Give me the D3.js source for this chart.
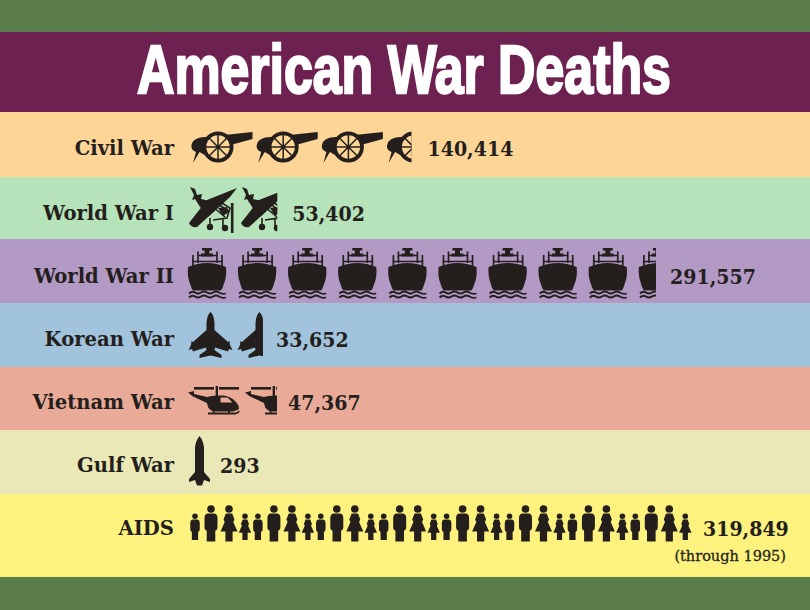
<!DOCTYPE html>
<html><head><meta charset="utf-8">
<script src="https://cdn.jsdelivr.net/npm/d3@7"></script>
<style>html,body{margin:0;padding:0;background:#5a7d4b}svg{display:block}</style>
</head><body><div id="c"></div>
<script>
// ---- data ----
const title = "American War Deaths";
const categories = ["Civil War","World War I","World War II","Korean War","Vietnam War","Gulf War","AIDS"];
const deaths = [140414,53402,291557,33652,47367,293,319849];
const deathsPerIcon = [41430,31450,31210,22600,30340,293,40000];
const iconKinds = ["cannon","biplane","ship","jet","helicopter","rocket","people"];
const footnote = "(through 1995)";
const bandColors = ["#fdd597","#b6e3b9","#b29ac5","#a1c3dc","#eaaa98","#e9e8b6","#fdf27e"];

// ---- layout ----
const W = 810, H = 610, ink = "#241f1d";
const titleBand = {y0:32, y1:112, color:"#6c2150"};
const bandEdges = [112,177,239,303,367,430,494,577];
const iconX = [190.5,189,188,190,188,189,189];
const iconY = [130,186,247,312,386,436,505];
const iconPitch = [65.2,52,50.1,49,57,21,62.9];
const labelBase = [155,220,283,346,409,472,535];
const valueGap = [16,15,14,13,11,10,11];

const cannonSpokes = d3.range(4).map(i => {
  const a = i*Math.PI/4, c = 13*Math.cos(a), s = 13*Math.sin(a);
  return `M${(27.5-c).toFixed(1)} ${(17-s).toFixed(1)}L${(27.5+c).toFixed(1)} ${(17+s).toFixed(1)}`;
}).join("");
const person = {
  man:`<circle cx="0" cy="-32.5" r="3.8"/><path d="M-3.500-28H3.500Q6.500-27.500 6.500-23.500V-15Q6.500-11 4.300-11V0H-4.300V-11Q-6.500-11-6.500-15V-23.500Q-6.500-27.500-3.500-28Z"/>`,
  woman:`<circle cx="0" cy="-32.5" r="3.8"/><path d="M-3.200-28H3.200L5.500-22 4.300-19.500 8.500-10H3.600V0H-3.600V-10H-8.500L-4.300-19.500-5.500-22Z"/>`
};
const place = (shape,x,y,s) => `<g transform="translate(${x},${y}) scale(${s})">${shape}</g>`;
const icons = {
  cannon:`<path d="M4 10Q8 7 15 7L62 2V9L40 15 36 28 14 25 9 22 2.500 33 5.500 22Q0 20 1 15 2 11 4 10Z"/>
    <circle cx="27.500" cy="17" r="13.600" fill="var(--bg)" stroke="${ink}" stroke-width="3.800"/>
    <path d="${cannonSpokes}" stroke="${ink}" stroke-width="1.500" fill="none"/>`,
  biplane:`<path d="M0 37 18 14 48 2 41 11 8 41Q2 42 0 37Z"/>
    <path d="M1 1 6 3 8 9 13 8 12 13 21 15 13 24 6 13 3 14 5 9Z"/>
    <path d="M19 30 33 17 41 22 38 32 24 34M24 21 36 31M28 17 40 26M21 32V40M34 33V41" fill="none" stroke="${ink}" stroke-width="1.600"/>
    <path d="M29 22 38 21 40 26 34 30Z"/>
    <circle cx="21" cy="41" r="3.200"/><circle cx="36" cy="42" r="3.200"/>
    <path d="M43.200 17V47" stroke="${ink}" stroke-width="2.600"/>`,
  ship:`<path d="M0 20Q19 12 38 20 39 30 35.500 38 34.500 42 33 43.500H5Q3.500 42 2.500 38-1 30 0 20Z"/>
    <rect x="14" y="1" width="10" height="2.500"/><rect x="16.500" y="1" width="5" height="8"/><rect x="13" y="6.500" width="12" height="3"/>
    <path d="M5 19V8M34 19V8M10 16V4.500M29 16V4.500M4 14.500H35M10 8.500H29" fill="none" stroke="${ink}" stroke-width="1.700"/>
    <path d="M1 46.500Q4 43.500 7 45.500T13 45.500 19 45.500 25 45.500 31 45.500 38 46.500M1 50.500Q4 47.500 7 49.500T13 49.500 19 49.500 25 49.500 31 49.500 38 50.500" fill="none" stroke="${ink}" stroke-width="1.800"/>`,
  jet:`<path d="M20.500 0Q24 3 24.500 11V18L38 30 39.500 29 40 33 42.500 38 39 37 38 39.500 25 35.500 24.500 38 31.500 43V46L20.500 43.500 9.500 46V43L16.500 38 16 35.500 3 39.500 2 37-1.500 38 1 33 1.500 29 3 30 16.500 18V11Q17 3 20.500 0Z"/>`,
  helicopter:`<rect x="6" y="1" width="20" height="2.600"/><rect x="31" y="1" width="20" height="2.600"/><rect x="27.600" y="0" width="2.400" height="11"/>
    <path d="M0 6.500 6 5V8L19 11Q24 9 35 9.500 42 10 47 15 52 20 50.500 23.500L45 25.500H27Q20 25 19 17L5 10.500Z"/>
    <path d="M32.500 11.500H39.500L44.500 16.500H32.500Z" fill="var(--bg)"/>
    <path d="M20 27.500H47Q50 27.500 51 25M25.500 24V27.500M41 24V27.500" fill="none" stroke="${ink}" stroke-width="1.800"/>`,
  rocket:`<path d="M10.500 0Q14.500 5 15 12V36L21 43V46L15 44 13 49.500H8L6 44 0 46V43L6 36V12Q6.500 5 10.500 0Z"/>`,
  people: place(person.man,6,35,.73) + place(person.man,22,36.500,1) + place(person.woman,40,36.500,1) + place(person.woman,56,35,.73)
};

const svg = d3.select("#c").append("svg").attr("width",W).attr("height",H);
svg.append("rect").attr("width",W).attr("height",H).attr("fill","#5a7d4b");

const rows = categories.map((name,i) => ({
  name, i, value:deaths[i], unit:deathsPerIcon[i], kind:iconKinds[i], color:bandColors[i],
  y0:bandEdges[i], y1:bandEdges[i+1],
  x:d3.scaleLinear().domain([0,deathsPerIcon[i]]).range([0,iconPitch[i]])
}));

svg.append("rect").attr("y",titleBand.y0).attr("width",W).attr("height",titleBand.y1-titleBand.y0).attr("fill",titleBand.color);
const titleText = svg.append("text").text(title)
  .attr("font-family","'Liberation Sans',Arial,sans-serif").attr("font-weight",700).attr("font-size",69)
  .attr("fill","#fff").attr("stroke","#fff").attr("stroke-width",2.4).attr("stroke-linejoin","miter");
const natural = titleText.node().getComputedTextLength();
titleText.attr("transform",`translate(137,93) scale(${534/natural},1)`);

const row = svg.selectAll("g.row").data(rows).join("g").attr("class","row")
  .style("--bg",d=>d.color);
row.append("rect").attr("y",d=>d.y0).attr("width",W).attr("height",d=>d.y1-d.y0).attr("fill",d=>d.color);

const defs = svg.append("defs");
rows.forEach(d=>{
  defs.append("clipPath").attr("id","clip"+d.i).append("rect")
    .attr("x",iconX[d.i]-4).attr("y",d.y0)
    .attr("width",d.x(d.value)+4).attr("height",d.y1-d.y0);
});
const iconRows = row.append("g").attr("clip-path",d=>`url(#clip${d.i})`).attr("fill",ink);
iconRows.selectAll("g.icon").data(d=>d3.range(Math.ceil(d.value/d.unit)).map(k=>({k,d})))
  .join("g").attr("class","icon")
  .attr("transform",e=>`translate(${iconX[e.d.i]+e.d.x(e.k*e.d.unit)},${iconY[e.d.i]})`)
  .html(e=>icons[e.d.kind]);

const slab = "'DejaVu Serif',serif";
row.append("text").text(d=>d.name)
  .attr("transform",d=>`translate(174,${labelBase[d.i]}) scale(1,1.08)`).attr("text-anchor","end")
  .attr("font-family",slab).attr("font-weight",700).attr("font-size",19.6).attr("fill",ink);
row.append("text").text(d=>d3.format(",")(d.value))
  .attr("transform",d=>`translate(${iconX[d.i]+d.x(d.value)+valueGap[d.i]},${labelBase[d.i]+1}) scale(1,1.12)`)
  .attr("font-family",slab).attr("font-weight",700).attr("font-size",19).attr("fill",ink);
svg.append("text").text(footnote).attr("x",786).attr("y",561).attr("text-anchor","end")
  .attr("font-family",slab).attr("font-size",14.5).attr("fill",ink).attr("stroke",ink).attr("stroke-width",.3);
</script></body></html>
